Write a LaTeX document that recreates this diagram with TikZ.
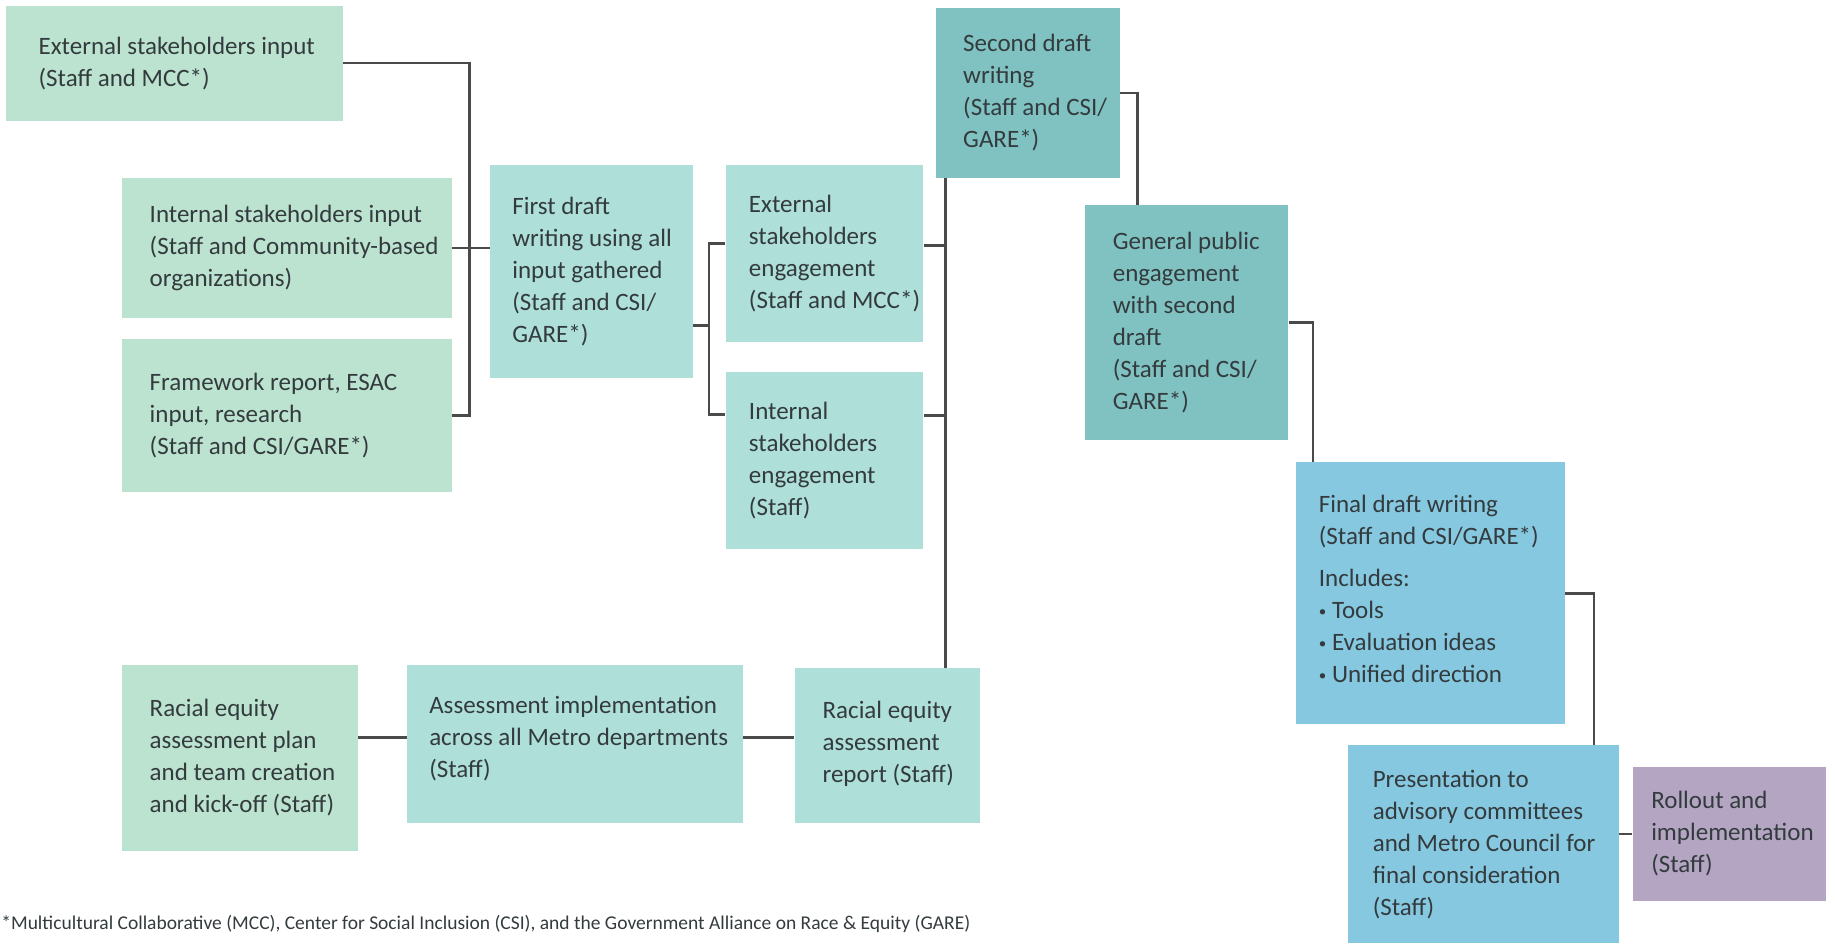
\documentclass[tikz,border=0pt]{standalone}
\usepackage{fontspec}
\setmainfont{Carlito}
\newfontfamily\footfont{Carlito}
\usetikzlibrary{fit,calc}
\definecolor{cgreen}{HTML}{BCE3CF}
\definecolor{cteal}{HTML}{AEDFD9}
\definecolor{cdteal}{HTML}{80C2C1}
\definecolor{cblue}{HTML}{86C8E0}
\definecolor{cpurple}{HTML}{B4A6C2}
\definecolor{ctext}{HTML}{333B3E}
\definecolor{cline}{HTML}{4A4A4A}
\newcommand{\sbul}{\raisebox{0.1em}{\scalebox{0.6}{\textbullet}}\ }
\tikzset{
  boxbase/.style={inner sep=0pt, draw=none},
  boxg/.style={boxbase, fill=cgreen},
  boxt/.style={boxbase, fill=cteal},
  boxd/.style={boxbase, fill=cdteal},
  boxb/.style={boxbase, fill=cblue},
  boxp/.style={boxbase, fill=cpurple},
  txt/.style={anchor=west, align=left, inner sep=0pt, text=ctext, font=\fontsize{25}{32}\selectfont},
  conn/.style={draw=cline, line width=2.6pt}
}
\begin{document}
\begin{tikzpicture}[x=1.1703pt, y=-1.1703pt]
\useasboundingbox (0,0) rectangle (1568,806);
% boxes
\node[boxg, fit={(5,5) (293,103)}] (A) {};
\node[boxg, fit={(104,152) (386,272)}] (B) {};
\node[boxg, fit={(104,290) (386,420)}] (C) {};
\node[boxt, fit={(419,141) (592,323)}] (D) {};
\node[boxt, fit={(620,141) (789,292)}] (E) {};
\node[boxt, fit={(620,318) (789,469)}] (F) {};
\node[boxd, fit={(800,7) (957,152)}] (G) {};
\node[boxd, fit={(927,175) (1101,376)}] (H) {};
\node[boxb, fit={(1107,395) (1337,619)}] (I) {};
\node[boxb, fit={(1152,637) (1383,806)}] (J) {};
\node[boxp, fit={(1395,655) (1560,770)}] (K) {};
\node[boxg, fit={(104,568) (306,727)}] (L) {};
\node[boxt, fit={(348,568) (635,703)}] (M) {};
\node[boxt, fit={(679,571) (837,703)}] (N) {};
% texts
\node[txt] (tA) at ([xshift=32.8pt]A.west) {External stakeholders input\\(Staff and MCC*)};
\node[txt] (tB) at ([xshift=28pt]B.west) {Internal stakeholders input\\(Staff and Community-based\\organizations)};
\node[txt] (tC) at ([xshift=28pt]C.west) {Framework report, ESAC\\input, research\\(Staff and CSI/GARE*)};
\node[txt] (tD) at ([xshift=22pt]D.west) {First draft\\writing using all\\input gathered\\(Staff and CSI/\\GARE*)};
\node[txt] (tE) at ([xshift=23.4pt]E.west) {External\\stakeholders\\engagement\\(Staff and MCC*)};
\node[txt] (tF) at ([xshift=23.4pt]F.west) {Internal\\stakeholders\\engagement\\(Staff)};
\node[txt] (tG) at ([xshift=27pt]G.west) {Second draft\\writing\\(Staff and CSI/\\GARE*)};
\node[txt] (tH) at ([xshift=28pt]H.west) {General public\\engagement\\with second\\draft\\(Staff and CSI/\\GARE*)};
\node[txt] (tI) at ([xshift=23.4pt,yshift=4pt]I.west) {Final draft writing\\(Staff and CSI/GARE*)\\[10pt]Includes:\\\sbul Tools\\\sbul Evaluation ideas\\\sbul Unified direction};
\node[txt] (tJ) at ([xshift=24.6pt]J.west) {Presentation to\\advisory committees\\and Metro Council for\\final consideration\\(Staff)};
\node[txt] (tK) at ([xshift=18.7pt]K.west) {Rollout and\\implementation\\(Staff)};
\node[txt] (tL) at ([xshift=28pt]L.west) {Racial equity\\assessment plan\\and team creation\\and kick-off (Staff)};
\node[txt] (tM) at ([xshift=22pt,yshift=5pt]M.west) {Assessment implementation\\across all Metro departments\\(Staff)};
\node[txt] (tN) at ([xshift=28pt,yshift=2pt]N.west) {Racial equity\\assessment\\report (Staff)};
% footnote
\node[anchor=base west, inner sep=0pt, text=ctext, font=\footfont\fontsize{19.5}{22}\selectfont] (foot) at (1,794) {*Multicultural Collaborative (MCC), Center for Social Inclusion (CSI), and the Government Alliance on Race \& Equity (GARE)};
% junction coordinates
\coordinate (j1) at (401,0);
\coordinate (j2a) at (606,208);
\coordinate (j2b) at (606,354);
\coordinate (j2c) at (606,278);
\coordinate (j3a) at (808,210);
\coordinate (j3b) at (808,355);
\coordinate (j4) at (972,0);
\coordinate (j5) at (1122,0);
\coordinate (j6) at (1362,0);
\coordinate (j7) at (0,630);
% connectors
\draw[conn] (A.east) -| (j1 |- C.east) -- (C.east);
\draw[conn] (B.east) -- (B.east -| D.west);
\draw[conn] (D.east |- j2c) -- (j2c);
\draw[conn] (E.west |- j2a) -- (j2a) -- (j2b) -- (F.west |- j2b);
\draw[conn] (j3a |- G.south) -- (j3a |- N.north);
\draw[conn] (E.east |- j3a) -- (j3a);
\draw[conn] (F.east |- j3b) -- (j3b);
\draw[conn] (G.east) -| (j4 |- H.north);
\draw[conn] (H.east) -| (j5 |- I.north);
\draw[conn] (I.east) -| (j6 |- J.north);
\draw[conn] (J.east |- K.west) -- (K.west);
\draw[conn] (L.east |- j7) -- (M.west |- j7);
\draw[conn] (M.east |- j7) -- (N.west |- j7);
\end{tikzpicture}
\end{document}
